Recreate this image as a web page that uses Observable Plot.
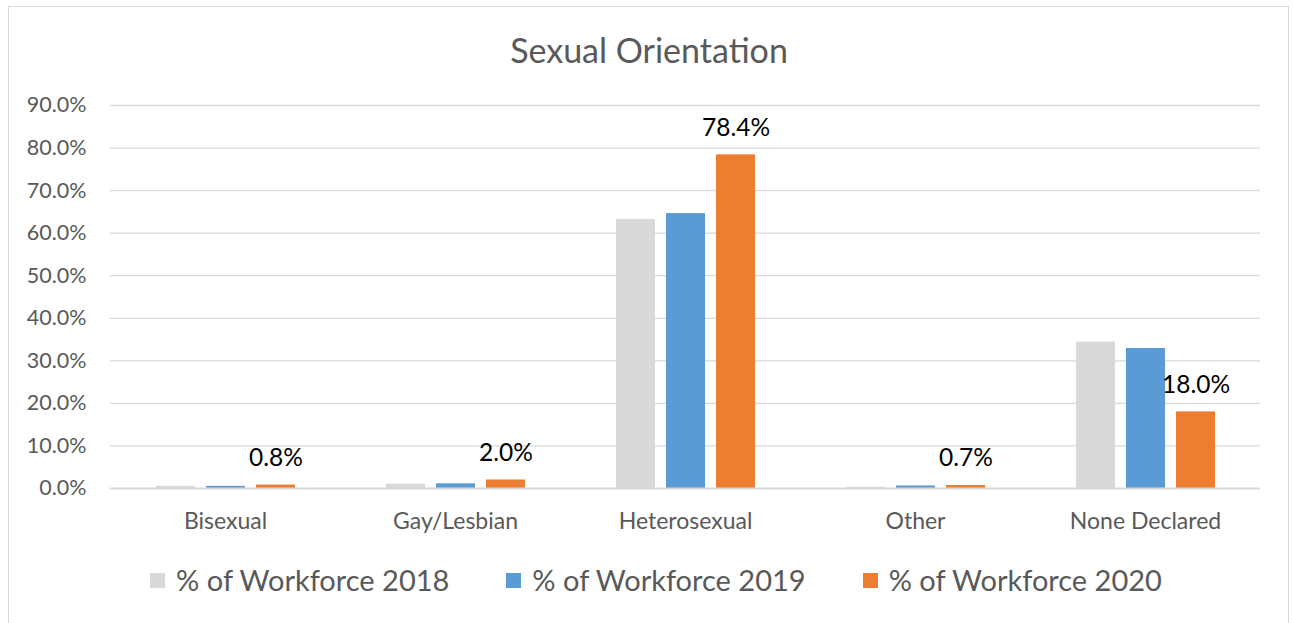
<!DOCTYPE html>
<html>
<head>
<meta charset="utf-8">
<script src="https://cdn.jsdelivr.net/npm/d3@7"></script>
<script src="https://cdn.jsdelivr.net/npm/@observablehq/plot@0.6"></script>
<style>
  body { margin: 0; background: #fff; }
  #wrap { position: relative; width: 1294px; height: 623px; overflow: hidden; font-family: Lato, "Liberation Sans", sans-serif; }
  #frame { position: absolute; left: 8px; top: 6px; width: 1281px; height: 640px; border: 1px solid #d9d9d9; box-sizing: border-box; }
  #title { position: absolute; left: 0; width: 1294px; top: 30px; text-align: center; font-size: 34px; color: #595959; line-height: 40px; padding-left: 4px; box-sizing: border-box; }
  #chart { position: absolute; left: 0; top: 80px; }
  #legend { position: absolute; left: 0; width: 1294px; top: 563px; display: flex; justify-content: center; gap: 57px; font-size: 29px; color: #595959; line-height: 34px; padding-left: 18px; box-sizing: border-box; }
  .item { display: flex; align-items: center; }
  .sw { width: 15px; height: 15px; margin-right: 11px; }
</style>
</head>
<body>
<div id="wrap">
  <div id="frame"></div>
  <div id="title">Sexual Orientation</div>
  <div id="chart"></div>
  <div id="legend"></div>
</div>
<script>
const categories = ["Bisexual", "Gay/Lesbian", "Heterosexual", "Other", "None Declared"];
const series = ["% of Workforce 2018", "% of Workforce 2019", "% of Workforce 2020"];
const v2018 = [0.5, 1.0, 63.2, 0.3, 34.4];
const v2019 = [0.5, 1.1, 64.6, 0.6, 32.9];
const v2020 = [0.8, 2.0, 78.4, 0.7, 18.0];
const yTicks = [0, 10, 20, 30, 40, 50, 60, 70, 80, 90];
const colors = ["#d9d9d9", "#5b9bd5", "#ed7d31"];

const allValues = [v2018, v2019, v2020];
const data = [];
categories.forEach((c, i) => {
  series.forEach((s, j) => data.push({category: c, series: s, value: allValues[j][i]}));
});
const labelled = data.filter(d => d.series === series[2]);

const chart = Plot.plot({
  width: 1294,
  height: 460,
  marginLeft: 108,
  marginRight: 32,
  marginTop: 25,
  marginBottom: 52,
  style: {fontFamily: "Lato, 'Liberation Sans', sans-serif", fontSize: "18px", color: "#595959", background: "transparent"},
  fx: {domain: categories, padding: 0, label: null, axis: null},
  x: {domain: series, axis: null, paddingInner: 0.22, paddingOuter: 0.87},
  y: {domain: [0, 90], axis: null},
  color: {domain: series, range: colors},
  marks: [
    Plot.ruleY(yTicks.filter(t => t > 0), {stroke: "#d9d9d9", strokeWidth: 1.3}),
    Plot.axisY({ticks: yTicks, tickSize: 0, tickPadding: 24, tickFormat: d => d.toFixed(1) + "%", label: null, fontSize: 21.5, facetAnchor: "left"}),
    Plot.barY(data, {fx: "category", x: "series", y: "value", fill: "series"}),
    Plot.ruleY([0], {stroke: "#d9d9d9", strokeWidth: 2}),
    Plot.text(labelled, {fx: "category", x: "series", y: "value", text: d => d.value.toFixed(1) + "%", dy: -27, fill: "#000", fontSize: 24.5, lineAnchor: "middle"}),
    Plot.axisFx({tickSize: 0, tickPadding: 24, label: null, fontSize: 23, anchor: "bottom"})
  ]
});
document.getElementById("chart").appendChild(chart);

const legend = document.getElementById("legend");
series.forEach((s, j) => {
  const it = document.createElement("div");
  it.className = "item";
  const sw = document.createElement("div");
  sw.className = "sw";
  sw.style.background = colors[j];
  const tx = document.createElement("span");
  tx.textContent = s;
  it.appendChild(sw); it.appendChild(tx);
  legend.appendChild(it);
});
</script>
</body>
</html>
